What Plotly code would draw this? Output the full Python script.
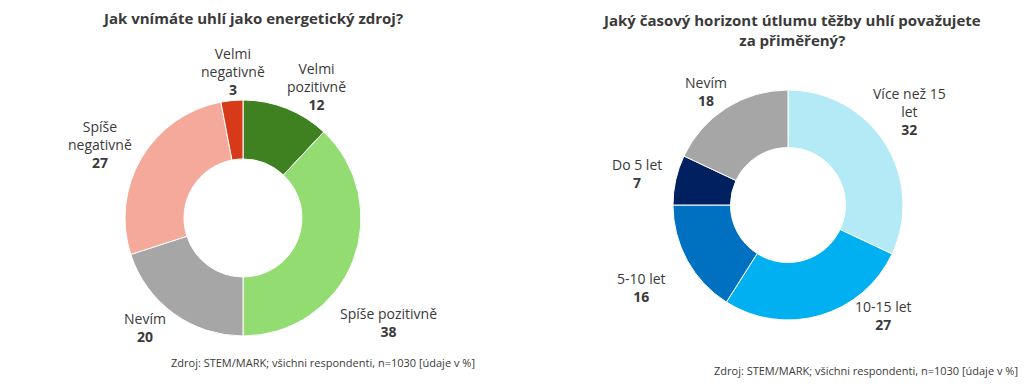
import plotly.graph_objects as go

W, H = 1024, 387

# ---- data ----
left_title = "Jak vnímáte uhlí jako energetický zdroj?"
left_labels = ["Velmi pozitivně", "Spíše pozitivně", "Nevím", "Spíše negativně", "Velmi negativně"]
left_text = ["Velmi<br>pozitivně", "Spíše pozitivně", "Nevím", "Spíše<br>negativně", "Velmi<br>negativně"]
left_values = [12, 38, 20, 27, 3]
left_colors = ["#3F8120", "#92DC72", "#A6A6A6", "#F4A99A", "#D63A19"]

right_title = "Jaký časový horizont útlumu těžby uhlí považujete<br>za přiměřený?"
right_labels = ["Více než 15 let", "10-15 let", "5-10 let", "Do 5 let", "Nevím"]
right_text = ["Více než 15<br>let", "10-15 let", "5-10 let", "Do 5 let", "Nevím"]
right_values = [32, 27, 16, 7, 18]
right_colors = ["#B4EAF6", "#00B0F0", "#0070C0", "#002060", "#A6A6A6"]

source = "Zdroj: STEM/MARK; všichni respondenti, n=1030 [údaje v %]"

# ---- layout helpers (pixel positions) ----
left_center, left_r = (243, 218), 118
right_center, right_r = (788, 205), 115
# label block centers (pixels)
left_label_pos = [(316, 86), (388, 322), (145, 327), (100, 144), (233, 71)]
right_label_pos = [(909, 112), (883, 315), (641, 287), (637, 173), (706, 91)]

FONT = "Open Sans"
TXT = "#3A3A3A"


def px(x):
    return x / W


def py(y):
    return 1 - y / H


def dom(c, r):
    return dict(x=[px(c[0] - r), px(c[0] + r)], y=[py(c[1] + r), py(c[1] - r)])


fig = go.Figure()
for labels, values, colors, c, r in [
    (left_labels, left_values, left_colors, left_center, left_r),
    (right_labels, right_values, right_colors, right_center, right_r),
]:
    fig.add_trace(go.Pie(
        labels=labels, values=values, hole=0.5, sort=False, direction="clockwise",
        rotation=0, marker=dict(colors=colors, line=dict(color="white", width=1)),
        textinfo="none", hoverinfo="label+value", domain=dom(c, r), showlegend=False,
    ))


def ann(x, y, text, size, **kw):
    return dict(x=px(x), y=py(y), xref="paper", yref="paper", showarrow=False,
                xanchor="center", yanchor="middle", text=text,
                font=dict(family=FONT, size=size, color=TXT), **kw)


annotations = []
for texts, values, poss in [(left_text, left_values, left_label_pos),
                            (right_text, right_values, right_label_pos)]:
    for t, v, (x, y) in zip(texts, values, poss):
        annotations.append(ann(x, y, f"{t}<br><b>{v}</b>", 14, align="center"))

annotations += [
    ann(252, 18, f"<b>{left_title}</b>", 15),
    ann(791, 30, f"<b>{right_title}</b>", 15),
    ann(323, 362, source, 11),
    ann(866, 370, source, 11),
]

fig.update_layout(
    width=W, height=H, margin=dict(l=0, r=0, t=0, b=0),
    paper_bgcolor="white", plot_bgcolor="white",
    annotations=annotations, font=dict(family=FONT),
)
fig.write_html(
    "out.html",
    config={"displayModeBar": False},
    post_script="document.body.style.margin='0';document.body.style.overflow='hidden';",
)
